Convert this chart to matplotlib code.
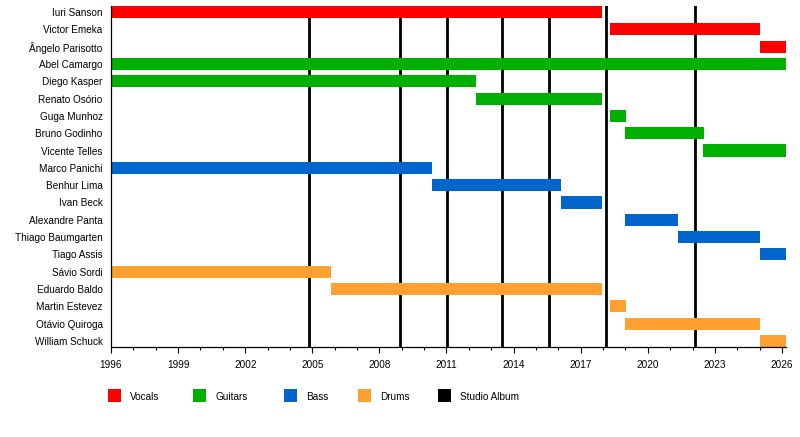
import matplotlib
matplotlib.use("Agg")
import matplotlib.pyplot as plt
from matplotlib.patches import Rectangle

plt.rcParams["font.family"] = ["Liberation Sans", "DejaVu Sans"]

# ---------------- DATA ----------------
members = [
    "Iuri Sanson", "Victor Emeka", "Ângelo Parisotto", "Abel Camargo",
    "Diego Kasper", "Renato Osório", "Guga Munhoz", "Bruno Godinho",
    "Vicente Telles", "Marco Panichi", "Benhur Lima", "Ivan Beck",
    "Alexandre Panta", "Thiago Baumgarten", "Tiago Assis", "Sávio Sordi",
    "Eduardo Baldo", "Martin Estevez", "Otávio Quiroga", "William Schuck",
]
roles = [
    "Vocals", "Vocals", "Vocals", "Guitars",
    "Guitars", "Guitars", "Guitars", "Guitars",
    "Guitars", "Bass", "Bass", "Bass",
    "Bass", "Bass", "Bass", "Drums",
    "Drums", "Drums", "Drums", "Drums",
]
start = [
    1996.0, 2018.31, 2025.0, 1996.0,
    1996.0, 2012.3, 2018.31, 2019.0,
    2022.47, 1996.0, 2010.33, 2016.1,
    2019.0, 2021.33, 2025.0, 1996.0,
    2005.82, 2018.31, 2019.0, 2025.0,
]
end = [
    2017.94, 2025.02, 2026.18, 2026.18,
    2012.32, 2017.94, 2019.02, 2022.5,
    2026.18, 2010.35, 2016.12, 2017.94,
    2021.35, 2025.02, 2026.18, 2005.83,
    2017.94, 2019.02, 2025.02, 2026.18,
]
albums = [2004.84, 2008.9, 2011.04, 2013.49, 2015.59, 2018.14, 2022.12]

role_colors = {
    "Vocals": "#ff0000",
    "Guitars": "#00b000",
    "Bass": "#0066cc",
    "Drums": "#ffa030",
    "Studio Album": "#000000",
}

# ---------------- PLOT ----------------
fig = plt.figure(figsize=(8, 4.37), dpi=100)
ax = fig.add_axes([111 / 800, 1 - 347 / 437, 675 / 800, 341 / 437])

for x in albums:
    ax.axvline(x, color="black", linewidth=2.0, zorder=1)

for i, (s, e, r) in enumerate(zip(start, end, roles)):
    ax.barh(i, e - s, left=s, height=0.7, color=role_colors[r],
            edgecolor="none", zorder=2)

ax.set_xlim(1996, 2026.18)
ax.set_ylim(19.35, -0.35)
ax.set_yticks(range(len(members)))
ax.set_yticklabels(members, fontsize=7.2)
ax.tick_params(axis="y", length=0, pad=6)

ax.set_xticks(range(1996, 2027, 3))
ax.set_xticks(range(1996, 2027), minor=True)
ax.tick_params(axis="x", which="major", length=4, width=0.8, pad=5, labelsize=7.2)
ax.tick_params(axis="x", which="minor", length=2.5, width=0.8)

for side in ["top", "right"]:
    ax.spines[side].set_visible(False)
for side in ["left", "bottom"]:
    ax.spines[side].set_linewidth(0.9)

# ---------------- LEYENDA ----------------
legend_x = [108, 193, 284, 358, 438]
for px, (lab, col) in zip(legend_x, role_colors.items()):
    fig.patches.append(Rectangle((px / 800, 1 - 402 / 437), 13 / 800, 13 / 437,
                                 transform=fig.transFigure, facecolor=col,
                                 edgecolor="none"))
    fig.text((px + 22) / 800, 1 - 396.5 / 437, lab, fontsize=7.2, va="center")

fig.savefig("out.png", dpi=100)
plt.close(fig)
